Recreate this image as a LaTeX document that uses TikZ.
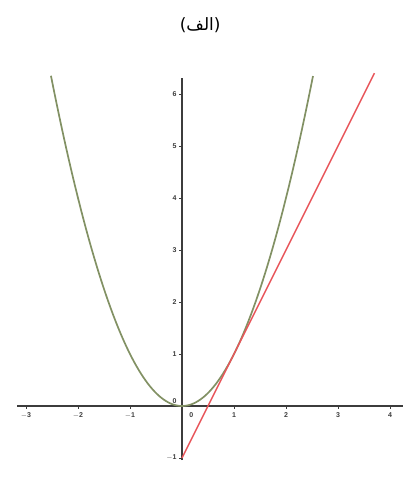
\documentclass[tikz,border=0pt]{standalone}
\usepackage{fontspec}
\setmainfont{Liberation Sans}
\newfontfamily\arabicfont[Script=Arabic]{DejaVu Sans}
\TeXXeTstate=1
\definecolor{axisgray}{RGB}{60,60,60}
\definecolor{parab}{RGB}{130,145,100}
\definecolor{tang}{RGB}{232,85,90}
\begin{document}
\begin{tikzpicture}[x=52pt,y=52pt,
  axisline/.style={axisgray,line width=1.4pt},
  ticklab/.style={font=\fontsize{7}{8}\selectfont\bfseries,text=axisgray,inner sep=1pt},
  curveA/.style={parab,line width=1.7pt},
  curveB/.style={tang,line width=1.4pt}]
\useasboundingbox (-3.5,-1.4808) rectangle (4.3077,7.8077);
\node[font=\arabicfont\fontsize{17}{20}\selectfont] (title) at (0.35,7.33) {\beginR(الف)\endR};
\coordinate (xl) at (-3.17,0);
\coordinate (xr) at (4.25,0);
\coordinate (yb) at (0,-1.04);
\coordinate (yt) at (0,6.31);
\draw[axisline] (xl) -- (xr);
\draw[axisline] (yb) -- (yt);
\foreach \i in {-3,-2,-1,1,2,3,4}{
  \draw[axisgray,line width=0.7pt] (\i,0) -- (\i,-0.06);
  \node[ticklab,anchor=north] (xt\i) at (\i,-0.1) {$\mathbf{\i}$};
}
\node[ticklab,anchor=north] (xt0) at (0.18,-0.1) {$\mathbf{0}$};
\foreach \j in {-1,1,2,3,4,5,6}{
  \draw[axisgray,line width=0.7pt] (0,\j) -- (-0.06,\j);
  \node[ticklab,anchor=east] (yt\j) at (-0.08,\j) {$\mathbf{\j}$};
}
\node[ticklab,anchor=east] (yt0) at (-0.08,0.1) {$\mathbf{0}$};
\draw[curveA] plot[domain=-2.52:2.52,samples=120,smooth] (\x,{\x*\x});
\draw[curveB] plot[domain=0:3.7,samples=2] (\x,{2*\x-1});
\end{tikzpicture}
\end{document}
